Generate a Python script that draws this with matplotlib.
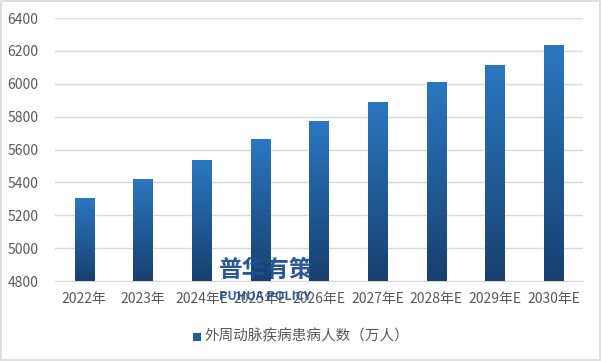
import numpy as np
import matplotlib
matplotlib.use("Agg")
import matplotlib.pyplot as plt
from matplotlib.colors import LinearSegmentedColormap
from matplotlib.patches import Rectangle

plt.rcParams['font.family'] = ['Noto Sans CJK SC', 'DejaVu Sans']

# data
years = ['2022年', '2023年', '2024年E', '2025年E', '2026年E',
         '2027年E', '2028年E', '2029年E', '2030年E']
patients = [5305, 5420, 5536, 5658, 5773, 5889, 6005, 6114, 6230]
series_name = '外周动脉疾病患病人数（万人）'

fig = plt.figure(figsize=(6.01, 3.61), dpi=100)
fig.patch.set_facecolor('white')
fig.patches.append(Rectangle((0.001, 0.002), 0.997, 0.995, transform=fig.transFigure,
                             fill=False, edgecolor='#d9d9d9', linewidth=1.2))

ax = fig.add_axes([0.0915, 0.2216, 0.8785, 0.7284])
x = np.arange(len(years))
bar_w = 0.33
bars = ax.bar(x, patients, width=bar_w, bottom=0, color='none', zorder=3)

# vertical gradient, light blue on top to navy at the base
cmap = LinearSegmentedColormap.from_list('g', ['#17406f', '#2a77c0'])
grad = np.linspace(0, 1, 256).reshape(-1, 1)
for b in bars:
    x0 = b.get_x()
    h = b.get_height()
    ax.imshow(grad, cmap=cmap, origin='lower', aspect='auto',
              extent=[x0, x0 + b.get_width(), 4800, h], zorder=3)

ax.set_xlim(-0.5, len(years) - 0.5)
ax.set_ylim(4800, 6400)
ax.set_yticks(np.arange(4800, 6401, 200))
ax.set_xticks(x)
ax.set_xticklabels(years)
ax.grid(axis='y', color='#d9d9d9', linewidth=1, zorder=0)
ax.set_axisbelow(True)
for s in ['top', 'right', 'left']:
    ax.spines[s].set_visible(False)
ax.spines['bottom'].set_color('#d9d9d9')
ax.tick_params(axis='both', length=0, colors='#595959', labelsize=10)
ax.tick_params(axis='y', pad=12)
ax.tick_params(axis='x', pad=8)

# legend
fig.patches.append(Rectangle((193 / 601, 1 - 341 / 361), 8 / 601, 8 / 361,
                             transform=fig.transFigure, facecolor='#1f5fa0', edgecolor='none'))
fig.text(204 / 601, 1 - 336 / 361, series_name, fontsize=10.5, color='#595959', va='center')

# watermark
fig.text(266 / 601, 1 - 270 / 361, '普华有策', fontsize=17, fontweight='bold',
         color='#1b4f8f', ha='center', va='center', alpha=0.95, zorder=10)
fig.text(265 / 601, 1 - 297 / 361, 'PUHUA POLICY', fontsize=9, fontweight='bold',
         color='#1b4f8f', ha='center', va='center', alpha=0.9, zorder=10)

fig.savefig('out.png', dpi=100, facecolor='white')
